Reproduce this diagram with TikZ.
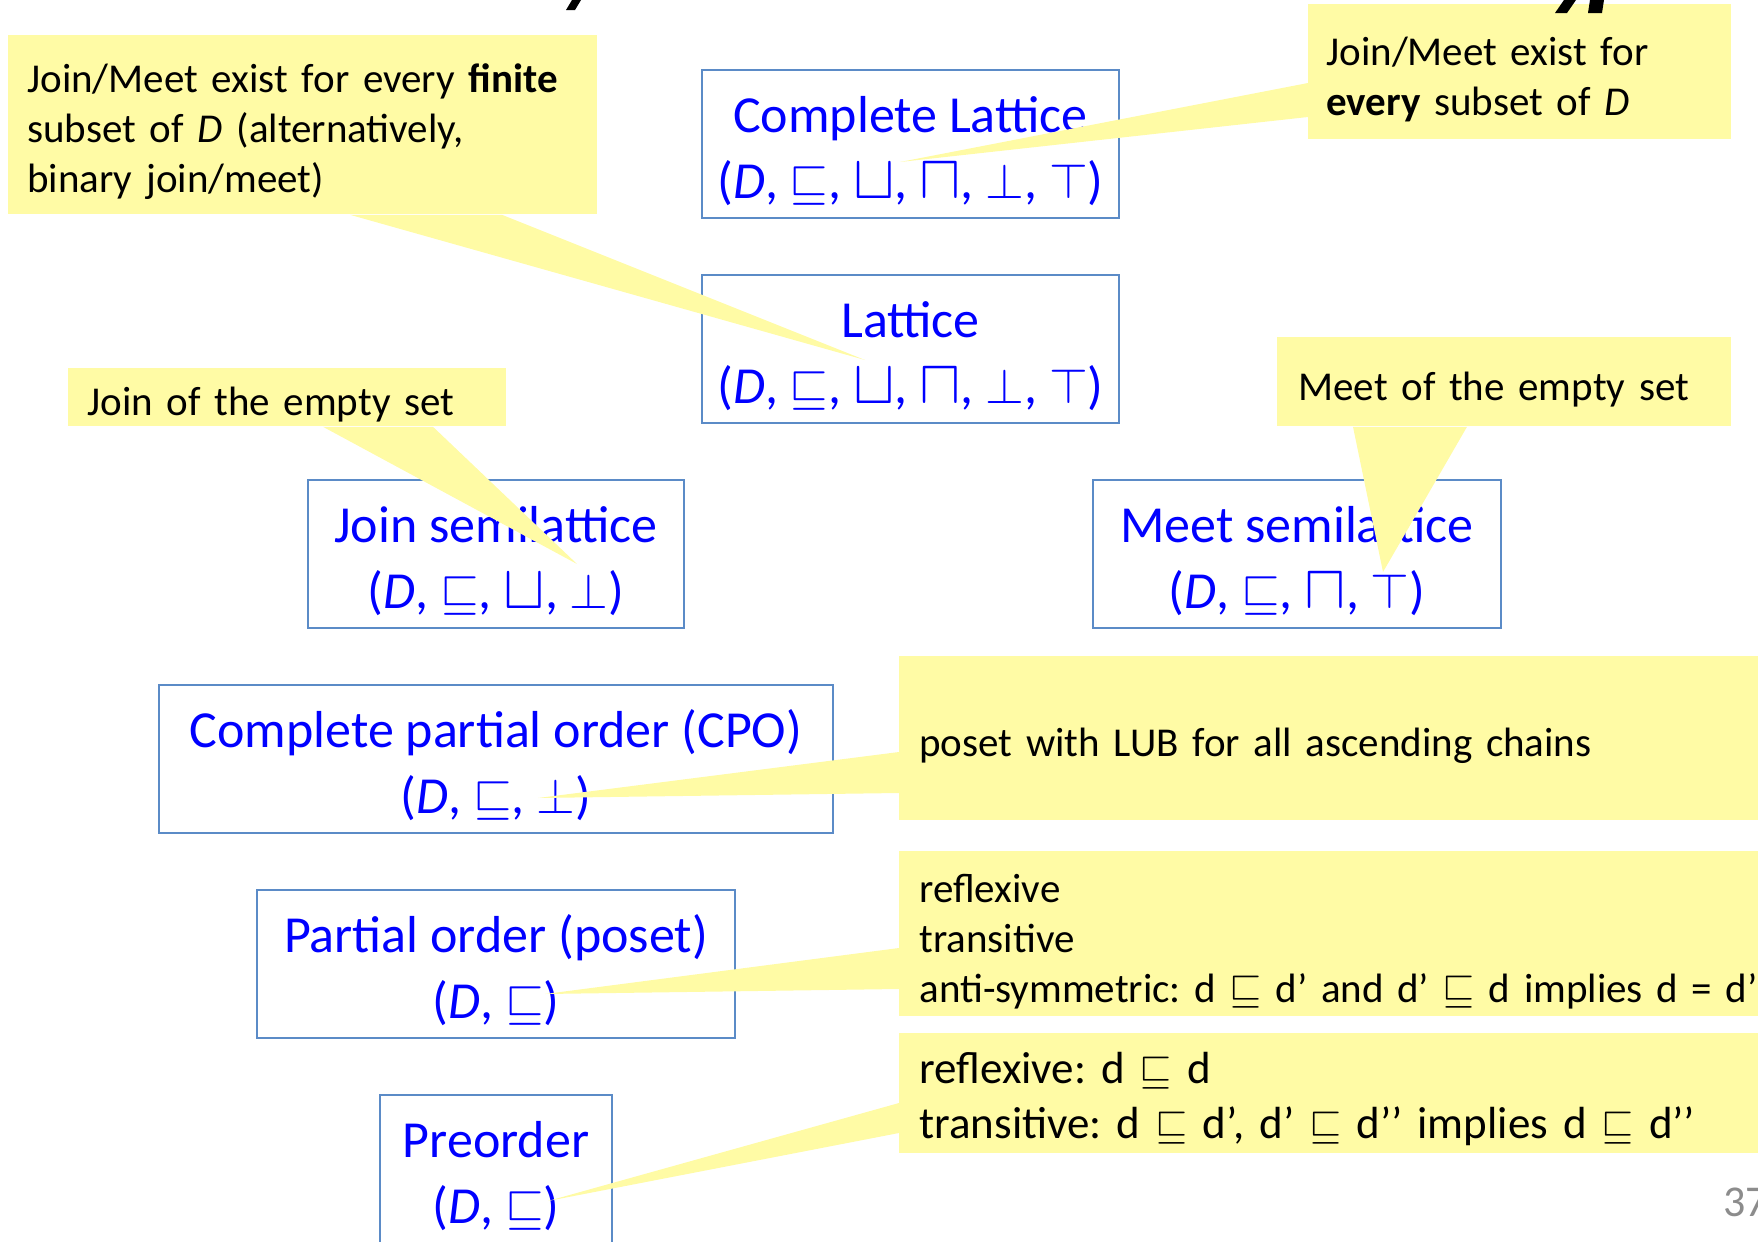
\documentclass[tikz,border=0pt]{standalone}
\usepackage{fontspec}
\setmainfont{Carlito}
\usepackage{amssymb}
\usepackage{graphicx}
\usepackage{tikz}
\usetikzlibrary{calc}
\definecolor{boxline}{RGB}{91,139,199}
\definecolor{boxtext}{RGB}{0,0,255}
\definecolor{notebg}{RGB}{255,251,165}
\definecolor{pagenum}{RGB}{140,140,140}
\newcommand{\joinop}{\scalebox{1.25}{$\sqcup$}}
\newcommand{\meetop}{\scalebox{1.25}{$\sqcap$}}
\newcommand{\orderlines}[2]{\rule{0pt}{31pt}#1\\#2\rule[-9.2pt]{0pt}{9.2pt}}
\frenchspacing

\begin{document}
\begin{tikzpicture}[x=0.5pt,y=-0.5pt,
		every node/.style={font=\fontsize{20.5}{25}\selectfont},
		level/.style={draw=boxline,line width=0.8pt,text=boxtext,align=center,minimum height=74pt,inner sep=0pt,font=\fontsize{26}{33}\selectfont},
		note/.style={fill=notebg,anchor=north west,align=left,inner ysep=0pt,execute at begin node={\rule{0pt}{21.5pt}}},
		tail/.style={fill=notebg}]
			\useasboundingbox (0,0) rectangle (1758,1242);
			% the order structures
			\node[level,minimum width=208.5pt] (cl) at (910.5,144) {\orderlines{Complete Lattice}{(\textit{D}, $\sqsubseteq$, \joinop, \meetop, $\bot$, $\top$)}};
			\node[level,minimum width=208.5pt] (lat) at (910.5,349) {\orderlines{Lattice}{(\textit{D}, $\sqsubseteq$, \joinop, \meetop, $\bot$, $\top$)}};
			\node[level,minimum width=188pt] (jsl) at (496,554) {\orderlines{Join semilattice}{(\textit{D}, $\sqsubseteq$, \joinop, $\bot$)}};
			\node[level,minimum width=204pt] (msl) at (1297,554) {\orderlines{Meet semilattice}{(\textit{D}, $\sqsubseteq$, \meetop, $\top$)}};
			\node[level,minimum width=337pt] (cpo) at (496,759) {\orderlines{Complete partial order (CPO)}{(\textit{D}, $\sqsubseteq$, $\bot$)}};
			\node[level,minimum width=239pt] (po) at (496,964) {\orderlines{Partial order (poset)}{(\textit{D}, $\sqsubseteq$)}};
			\node[level,minimum width=116pt] (pre) at (496,1169) {\orderlines{Preorder}{(\textit{D}, $\sqsubseteq$)}};
			% yellow notes
			\node[note,inner xsep=9.5pt,text width=275.5pt,minimum height=89.5pt] (nfin) at (8,35) {Join/Meet exist for every \textbf{finite}\\subset of \textit{D} (alternatively,\\binary join/meet)};
			\node[note,inner xsep=9pt,text width=193.5pt,minimum height=67.5pt] (nall) at (1308,4) {Join/Meet exist for\\\textbf{every} subset of \textit{D}};
			\node[note,inner xsep=9.5pt,text width=200pt,minimum height=29pt] (nbot) at (68,368) {Join of the empty set};
			\node[note,inner xsep=10.5pt,text width=206pt,minimum height=44.5pt] (ntop) at (1277,337) {Meet of the empty set};
			\node[note,inner xsep=10pt,text width=440pt,minimum height=82pt] (nlub) at (899,656) {poset with LUB for all ascending chains};
			\node[note,inner xsep=10pt,text width=440pt,minimum height=82.5pt] (npo) at (899,851) {reflexive\\transitive\\anti-symmetric: d $\sqsubseteq$ d’ and d’ $\sqsubseteq$ d implies d = d’};
			\node[note,inner xsep=10pt,text width=440pt,minimum height=60pt,font=\fontsize{22.5}{27.5}\selectfont] (npre) at (899,1033) {reflexive: d $\sqsubseteq$ d\\transitive: d $\sqsubseteq$ d’, d’ $\sqsubseteq$ d’’ implies d $\sqsubseteq$ d’’};
			% pointers
			\coordinate (tfin) at (865,360);
			\coordinate (tall) at (900,162);
			\coordinate (tbot) at (577,564);
			\coordinate (ttop) at (1383,572);
			\coordinate (tlub) at (538,798);
			\coordinate (tpo) at (545,994);
			\coordinate (tpre) at (548,1201);
			\fill[tail] ($(nfin.south west)+(342,0)$) -- (tfin) -- ($(nfin.south west)+(494,0)$) -- cycle;
			\fill[tail] ($(nall.north west)+(0,79)$) -- (tall) -- ($(nall.north west)+(0,113)$) -- cycle;
			\fill[tail] ($(nbot.south west)+(255,0)$) -- (tbot) -- ($(nbot.south west)+(365,0)$) -- cycle;
			\fill[tail] ($(ntop.south west)+(76,0)$) -- (ttop) -- ($(ntop.south west)+(190,0)$) -- cycle;
			\fill[tail] ($(nlub.north west)+(0,96)$) -- (tlub) -- ($(nlub.north west)+(0,137)$) -- cycle;
			\fill[tail] ($(npo.north west)+(0,97)$) -- (tpo) -- ($(npo.north west)+(0,138)$) -- cycle;
			\fill[tail] ($(npre.north west)+(0,70)$) -- (tpre) -- ($(npre.north west)+(0,100)$) -- cycle;
			% cut-off title
			\fill[black] (572,0) -- (581,0) -- (575,10) -- (566,10) -- cycle;
			\fill[black] (1564,0) -- (1576,0) -- (1567,13) -- (1555,13) -- cycle;
			\fill[black] (1590,0) -- (1604,0) -- (1602,13) -- (1588,13) -- cycle;
			\node[text=pagenum,anchor=base west,inner sep=0pt,font=\fontsize{22}{26}\selectfont] (pg) at (1723,1216) {37};
		\end{tikzpicture}
\end{document}
